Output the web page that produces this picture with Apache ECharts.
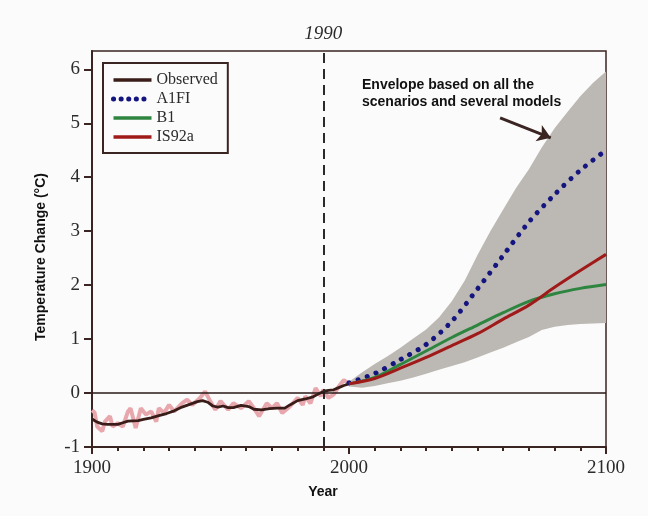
<!DOCTYPE html>
<html>
<head>
<meta charset="utf-8">
<title>Temperature Change</title>
<script src="https://cdn.jsdelivr.net/npm/echarts@6.0.0/dist/echarts.min.js"></script>
<style>
	html,body{margin:0;padding:0;background:#fbfbfb;}
	#main{width:648px;height:516px;}
</style>
</head>
<body>
<div id="main"></div>
<script>
// 观测值 (黑线, 平滑)
var obsYears = [1900,1902,1904,1906,1910,1912,1914,1918,1920,1923,1926,1929,1932,1935,1938,1941,1943,1945,1947,1949,1951,1953,1955,1958,1961,1963,1966,1969,1972,1975,1977,1980,1983,1986,1988,1990,1992,1994,1996,1998,2000];
var obsSmooth = [-0.48,-0.54,-0.57,-0.58,-0.58,-0.55,-0.52,-0.51,-0.49,-0.46,-0.42,-0.38,-0.33,-0.26,-0.21,-0.16,-0.14,-0.17,-0.24,-0.26,-0.24,-0.27,-0.27,-0.23,-0.25,-0.30,-0.31,-0.29,-0.28,-0.28,-0.22,-0.14,-0.11,-0.07,-0.02,0.03,0.05,0.06,0.10,0.14,0.17];
// 观测值 (粉色, 年际波动)
var annYears = [1900,1901,1902,1904,1905,1907,1908,1910,1912,1914,1915,1917,1919,1921,1923,1925,1926,1928,1930,1932,1935,1937,1939,1942,1944,1946,1948,1950,1953,1955,1958,1961,1963,1965,1968,1970,1972,1974,1977,1980,1982,1983,1985,1987,1989,1990,1992,1994,1996,1998,2000];
var annValues = [-0.32,-0.36,-0.62,-0.71,-0.53,-0.43,-0.62,-0.56,-0.62,-0.34,-0.28,-0.65,-0.28,-0.40,-0.34,-0.53,-0.28,-0.37,-0.22,-0.34,-0.19,-0.12,-0.22,-0.09,0.03,-0.15,-0.31,-0.15,-0.31,-0.19,-0.28,-0.15,-0.28,-0.43,-0.19,-0.28,-0.19,-0.37,-0.25,-0.09,-0.22,-0.06,-0.19,0.09,-0.06,0.06,-0.09,-0.03,0.12,0.24,0.18];
// 情景预估
var projYears = [2000,2010,2020,2030,2040,2050,2060,2070,2080,2090,2100];
var a1fi = [0.19,0.36,0.62,0.90,1.33,1.93,2.55,3.17,3.68,4.13,4.50];
var b1 = [0.17,0.29,0.53,0.78,1.03,1.26,1.49,1.70,1.84,1.94,2.01];
var is92a = [0.17,0.27,0.46,0.66,0.88,1.10,1.37,1.63,1.96,2.27,2.57];
// 包络范围
var envYears = [2000,2005,2010,2015,2020,2025,2030,2035,2040,2045,2050,2055,2060,2065,2070,2075,2080,2085,2090,2095,2100];
var envLow = [0.12,0.10,0.13,0.18,0.23,0.29,0.36,0.43,0.50,0.57,0.66,0.75,0.84,0.94,1.04,1.17,1.23,1.26,1.28,1.29,1.30];
var envHigh = [0.21,0.38,0.54,0.68,0.84,1.01,1.18,1.40,1.70,2.08,2.56,3.00,3.40,3.80,4.15,4.55,4.91,5.21,5.50,5.75,5.96];
var yTicks = [-1,0,1,2,3,4,5,6];

var serif = 'Liberation Serif';
var sans = 'Liberation Sans';
var frameColor = '#3a2522';

function pairs(xs,ys){
	var out = [];
	for(var i=0;i<xs.length;i++){
		out.push([xs[i],ys[i]]);
	}
	return out;
}
//包络多边形: 上沿 + 反向下沿
function renderEnvelope(params,api){
	var pts = [];
	for(var i=0;i<envYears.length;i++){
		pts.push(api.coord([envYears[i],envHigh[i]]));
	}
	for(var j=envYears.length-1;j>=0;j--){
		pts.push(api.coord([envYears[j],envLow[j]]));
	}
	return {
		type: 'polygon',
		shape: {points: pts},
		style: {fill: '#bcb8b3'}
	};
}

var myChart = echarts.init(document.getElementById('main'));
var option = {
	backgroundColor: '#fbfbfb',
	animation: false,
	grid: {
		left: 92, right: 42, top: 51, bottom: 69,
		show: true,
		borderColor: frameColor,
		borderWidth: 1.5
	},
	legend: {
		data: ['Observed', {name: 'A1FI', lineStyle: {width: 5, type: [0.1, 7.5]}}, 'B1', 'IS92a'],
		orient: 'vertical',
		left: 103, top: 63,
		backgroundColor: '#fbfbfb',
		borderColor: frameColor,
		borderWidth: 2,
		padding: [9, 10, 8, 8],
		itemWidth: 38,
		itemHeight: 13,
		itemGap: 3,
		itemStyle: {opacity: 0},
		lineStyle: {width: 3.5},
		textStyle: {fontFamily: serif, fontSize: 16, lineHeight: 16, color: '#2b2b2b'}
	},
	xAxis: {
		type: 'value',
		min: 1900, max: 2100, interval: 100,
		name: 'Year',
		nameLocation: 'middle',
		nameGap: 38,
		nameTextStyle: {fontFamily: sans, fontWeight: 'bold', fontSize: 14, color: '#111', padding: [0, 52, 0, 0]},
		axisLine: {onZero: false, lineStyle: {color: frameColor, width: 2}},
		axisTick: {length: 7, lineStyle: {color: frameColor, width: 2}},
		minorTick: {show: true, splitNumber: 10, length: 4, lineStyle: {color: frameColor, width: 2}},
		axisLabel: {fontFamily: serif, fontSize: 19, color: '#2b2b2b', margin: 12,
			formatter: function(v){ return String(v); }},
		splitLine: {show: false}
	},
	yAxis: {
		type: 'value',
		min: -1, max: 6.34,
		name: 'Temperature Change (°C)',
		nameLocation: 'middle',
		nameGap: 44,
		nameTextStyle: {fontFamily: sans, fontWeight: 'bold', fontSize: 14, color: '#111', padding: [0, 16, 0, 0]},
		axisLine: {lineStyle: {color: frameColor, width: 2}},
		axisTick: {length: 8, customValues: yTicks, lineStyle: {color: frameColor, width: 2}},
		axisLabel: {fontFamily: serif, fontSize: 19, color: '#2b2b2b', margin: 12, customValues: yTicks},
		splitLine: {show: false}
	},
	graphic: [{
		type: 'text',
		left: 362, top: 77,
		style: {
			text: 'Envelope based on all the\nscenarios and several models',
			font: 'bold 14px "Liberation Sans"',
			fill: '#111',
			lineHeight: 17
		}
	}],
	series: [{
		name: 'Envelope',
		type: 'custom',
		data: [[2050, 2]],
		renderItem: renderEnvelope,
		silent: true,
		z: 1
	},{
		name: 'Observed annual',
		type: 'line',
		data: pairs(annYears,annValues),
		symbol: 'none',
		lineStyle: {color: '#e8a7ad', width: 4},
		z: 2
	},{
		name: 'Observed',
		type: 'line',
		data: pairs(obsYears,obsSmooth),
		symbol: 'none',
		color: '#3a1c19',
		lineStyle: {color: '#3a1c19', width: 2.8},
		z: 4,
		markLine: {
			silent: true,
			symbol: 'none',
			data: [{
				xAxis: 1990,
				lineStyle: {color: '#2a2a2a', width: 2, type: [10, 6]},
				label: {show: true, position: 'end', formatter: '1990', distance: 8,
					fontFamily: serif, fontStyle: 'italic', fontSize: 19, color: '#2b2b2b'}
			},{
				yAxis: 0,
				lineStyle: {color: '#2a1a18', width: 1.5, type: 'solid'},
				label: {show: false}
			}]
		}
	},{
		name: 'A1FI',
		type: 'line',
		data: pairs(projYears,a1fi),
		symbol: 'none',
		smooth: 0.3,
		color: '#15157f',
		lineStyle: {color: '#15157f', width: 5, type: [0.1, 9.5], cap: 'round'},
		z: 5
	},{
		name: 'B1',
		type: 'line',
		data: pairs(projYears,b1),
		symbol: 'none',
		smooth: 0.3,
		color: '#2e8540',
		lineStyle: {color: '#2e8540', width: 3},
		z: 5
	},{
		name: 'IS92a',
		type: 'line',
		data: pairs(projYears,is92a),
		symbol: 'none',
		smooth: 0.3,
		color: '#a11a1a',
		lineStyle: {color: '#a11a1a', width: 3},
		z: 5,
		markLine: {
			silent: true,
			symbol: ['none','arrow'],
			symbolSize: 13,
			lineStyle: {color: '#3a2522', width: 3, type: 'solid'},
			label: {show: false},
			data: [[{coord: [2058.8, 5.10]}, {coord: [2078.5, 4.73]}]]
		}
	}]
};
myChart.setOption(option);
</script>
</body>
</html>
